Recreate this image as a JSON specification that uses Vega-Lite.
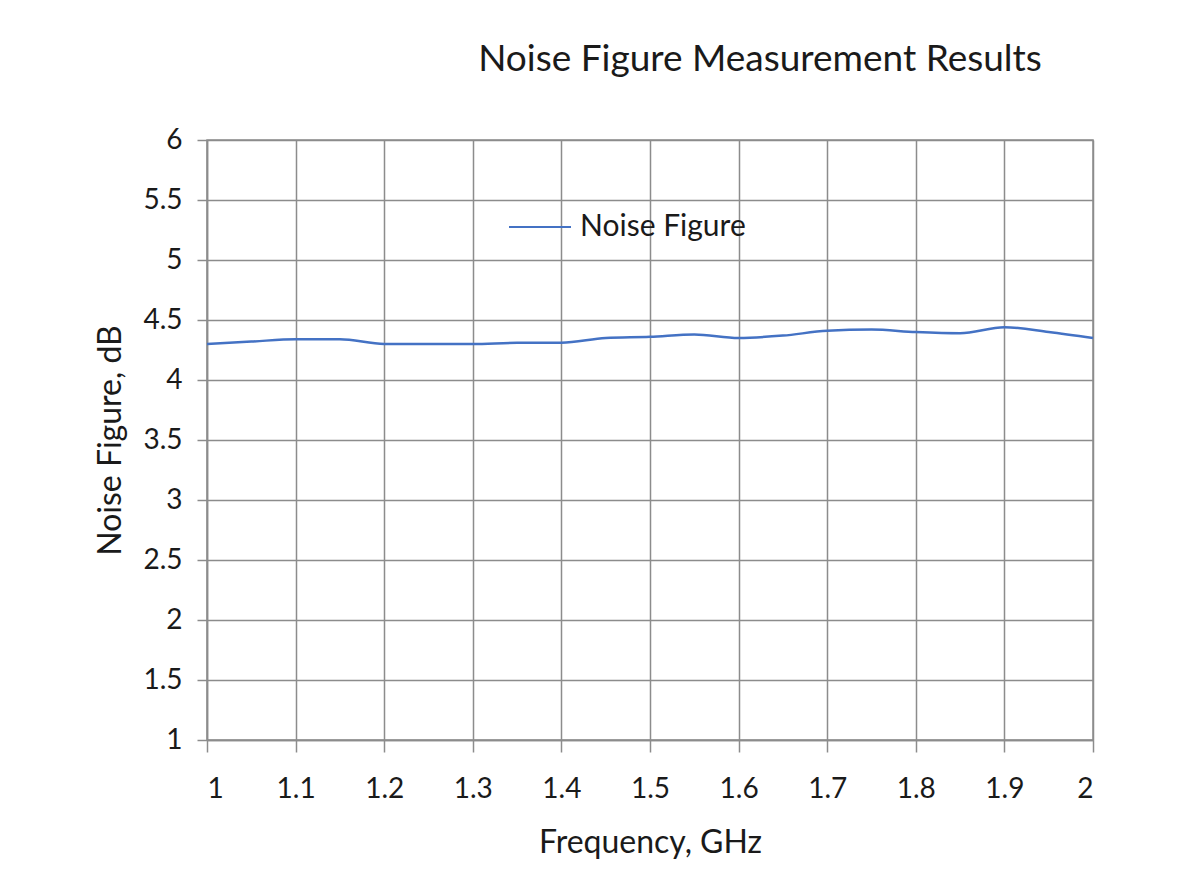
{
  "$schema": "https://vega.github.io/schema/vega-lite/v6.json",
  "width": 886,
  "height": 600,
  "autosize": {"type": "none"},
  "padding": {"left": 207, "top": 140, "right": 110, "bottom": 152},
  "background": "white",
  "title": {
    "text": "Noise Figure Measurement Results",
    "frame": "group",
    "anchor": "middle",
    "dx": 110,
    "offset": 47,
    "font": "Lato",
    "fontSize": 37,
    "fontWeight": "normal",
    "color": "#1a1a1a"
  },
  "data": {
    "values": [
      {"f": 1.00, "nf": 4.30, "s": "Noise Figure"},
      {"f": 1.05, "nf": 4.32, "s": "Noise Figure"},
      {"f": 1.10, "nf": 4.34, "s": "Noise Figure"},
      {"f": 1.15, "nf": 4.34, "s": "Noise Figure"},
      {"f": 1.20, "nf": 4.30, "s": "Noise Figure"},
      {"f": 1.25, "nf": 4.30, "s": "Noise Figure"},
      {"f": 1.30, "nf": 4.30, "s": "Noise Figure"},
      {"f": 1.35, "nf": 4.31, "s": "Noise Figure"},
      {"f": 1.40, "nf": 4.31, "s": "Noise Figure"},
      {"f": 1.45, "nf": 4.35, "s": "Noise Figure"},
      {"f": 1.50, "nf": 4.36, "s": "Noise Figure"},
      {"f": 1.55, "nf": 4.38, "s": "Noise Figure"},
      {"f": 1.60, "nf": 4.35, "s": "Noise Figure"},
      {"f": 1.65, "nf": 4.37, "s": "Noise Figure"},
      {"f": 1.70, "nf": 4.41, "s": "Noise Figure"},
      {"f": 1.75, "nf": 4.42, "s": "Noise Figure"},
      {"f": 1.80, "nf": 4.40, "s": "Noise Figure"},
      {"f": 1.85, "nf": 4.39, "s": "Noise Figure"},
      {"f": 1.90, "nf": 4.44, "s": "Noise Figure"},
      {"f": 1.95, "nf": 4.40, "s": "Noise Figure"},
      {"f": 2.00, "nf": 4.35, "s": "Noise Figure"}
    ]
  },
  "mark": {"type": "line", "strokeWidth": 2.5, "interpolate": "monotone"},
  "encoding": {
    "x": {
      "field": "f",
      "type": "quantitative",
      "scale": {"domain": [1, 2], "nice": false, "zero": false},
      "axis": {
        "title": "Frequency, GHz",
        "values": [1, 1.1, 1.2, 1.3, 1.4, 1.5, 1.6, 1.7, 1.8, 1.9, 2],
        "format": "~g",
        "tickSize": 12,
        "labelPadding": 23,
        "titlePadding": 24,
        "labelFontSize": 28,
        "titleFontSize": 32,
        "titleFontWeight": "normal"
      }
    },
    "y": {
      "field": "nf",
      "type": "quantitative",
      "scale": {"domain": [1, 6], "nice": false, "zero": false},
      "axis": {
        "title": "Noise Figure, dB",
        "values": [1, 1.5, 2, 2.5, 3, 3.5, 4, 4.5, 5, 5.5, 6],
        "format": "~g",
        "tickSize": 10,
        "labelPadding": 15,
        "titlePadding": 15,
        "labelFontSize": 28,
        "titleFontSize": 32,
        "titleFontWeight": "normal"
      }
    },
    "color": {
      "field": "s",
      "type": "nominal",
      "scale": {"range": ["#4472C4"]},
      "legend": {
        "title": null,
        "orient": "none",
        "legendX": 301,
        "legendY": 55,
        "symbolType": "stroke",
        "symbolSize": 3844,
        "symbolStrokeWidth": 2,
        "labelFontSize": 30,
        "labelOffset": 8,
        "labelLimit": 400,
        "labelFont": "Lato",
        "labelColor": "#1a1a1a"
      }
    }
  },
  "config": {
    "font": "Lato",
    "view": {"stroke": "#8c8c8c", "strokeWidth": 1.5},
    "axis": {
      "grid": true,
      "gridColor": "#8c8c8c",
      "gridOpacity": 1,
      "gridWidth": 1.5,
      "domainColor": "#8c8c8c",
      "domainWidth": 1.5,
      "tickColor": "#8c8c8c",
      "tickWidth": 1.5,
      "labelColor": "#1a1a1a",
      "titleColor": "#1a1a1a",
      "labelFont": "Lato",
      "titleFont": "Lato"
    }
  }
}
